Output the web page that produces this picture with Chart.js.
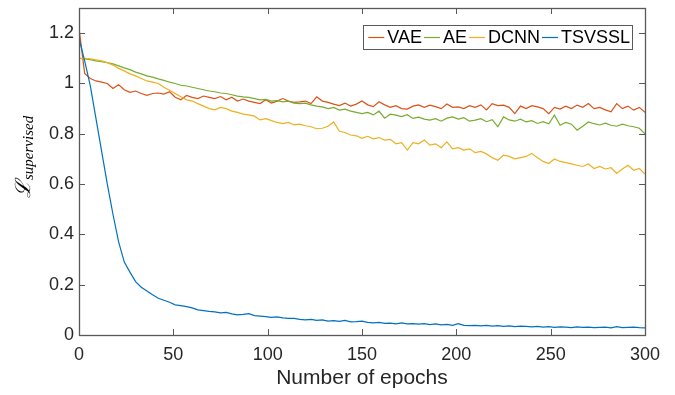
<!DOCTYPE html>
<html>
<head>
<meta charset="utf-8">
<script src="https://cdn.jsdelivr.net/npm/chart.js@4.4.0/dist/chart.umd.min.js"></script>
<style>
	html, body { margin: 0; padding: 0; background: #fff; }
	#wrap { width: 675px; height: 395px; }
</style>
</head>
<body>
<div id="wrap"><canvas id="lossChart" width="675" height="395"></canvas></div>
<script>
// one value every 3 epochs, 0..300
var EPOCH_STEP = 3;

var VAE = [
	1.22, 1.04, 1.02, 1.01, 1.005, 1.0, 0.98, 0.995, 0.975, 0.965,
	0.97, 0.96, 0.953, 0.96, 0.962, 0.958, 0.967, 0.945, 0.935, 0.952,
	0.945, 0.94, 0.95, 0.945, 0.94, 0.948, 0.935, 0.945, 0.93, 0.938,
	0.93, 0.925, 0.92, 0.935, 0.922, 0.93, 0.94, 0.93, 0.925, 0.927,
	0.93, 0.92, 0.947, 0.93, 0.925, 0.918, 0.912, 0.922, 0.91, 0.918,
	0.93, 0.915, 0.908, 0.927, 0.915, 0.905, 0.912, 0.9, 0.898, 0.91,
	0.915, 0.905, 0.914, 0.908, 0.9, 0.918, 0.905, 0.907, 0.9, 0.912,
	0.905, 0.915, 0.895, 0.92, 0.912, 0.914, 0.905, 0.88, 0.91, 0.9,
	0.912, 0.907, 0.9, 0.88, 0.905, 0.898, 0.91, 0.9, 0.914, 0.905,
	0.92, 0.9, 0.905, 0.895, 0.887, 0.92, 0.9, 0.91, 0.894, 0.905,
	0.885
];
var AE = [
	1.1, 1.098, 1.095, 1.09, 1.087, 1.083, 1.078, 1.07, 1.062, 1.055,
	1.045, 1.038, 1.03, 1.025, 1.018, 1.012, 1.005, 1.0, 0.993, 0.99,
	0.985, 0.98, 0.975, 0.97, 0.967, 0.962, 0.96, 0.955, 0.95, 0.947,
	0.945, 0.94, 0.935, 0.937, 0.93, 0.932, 0.927, 0.93, 0.922, 0.92,
	0.922, 0.915, 0.91, 0.907, 0.9, 0.905, 0.894, 0.898, 0.89, 0.885,
	0.88, 0.885, 0.875, 0.89, 0.862, 0.878, 0.874, 0.868, 0.876, 0.861,
	0.866, 0.858, 0.854, 0.86, 0.85, 0.862, 0.867, 0.858, 0.864, 0.85,
	0.854, 0.86, 0.848, 0.856, 0.828, 0.867, 0.855, 0.85, 0.858, 0.847,
	0.852, 0.841, 0.848, 0.84, 0.874, 0.834, 0.845, 0.838, 0.814, 0.83,
	0.847, 0.84, 0.835, 0.842, 0.834, 0.83, 0.838, 0.832, 0.828, 0.822,
	0.8
];
var DCNN = [
	1.1, 1.1, 1.098, 1.094, 1.09, 1.083, 1.073, 1.06, 1.05, 1.038,
	1.03, 1.02, 1.01, 1.005, 1.0, 0.985, 0.973, 0.96, 0.947, 0.935,
	0.93, 0.92, 0.91, 0.9, 0.895, 0.905, 0.9, 0.89, 0.885, 0.878,
	0.875, 0.87, 0.855, 0.86, 0.852, 0.845, 0.84, 0.845, 0.835, 0.838,
	0.832, 0.828, 0.82, 0.822, 0.83, 0.847, 0.81, 0.805, 0.795, 0.792,
	0.782, 0.79, 0.78, 0.785, 0.775, 0.778, 0.76, 0.765, 0.735, 0.765,
	0.76, 0.775, 0.755, 0.76, 0.745, 0.768, 0.74, 0.745, 0.735, 0.74,
	0.725, 0.73, 0.72, 0.705, 0.695, 0.715, 0.71, 0.7, 0.705, 0.71,
	0.722, 0.705, 0.69, 0.682, 0.7, 0.69, 0.685, 0.68, 0.675, 0.67,
	0.68, 0.662, 0.67, 0.66, 0.665, 0.642, 0.66, 0.675, 0.655, 0.662,
	0.64
];
var TSVSSL = [
	1.18, 1.09, 0.99, 0.86, 0.73, 0.6, 0.48, 0.37, 0.29, 0.25,
	0.212, 0.19, 0.175, 0.16, 0.146, 0.138, 0.13, 0.12, 0.117, 0.113,
	0.108, 0.1, 0.097, 0.094, 0.092, 0.088, 0.09, 0.084, 0.08, 0.082,
	0.085, 0.077, 0.075, 0.073, 0.07, 0.072, 0.068, 0.066, 0.066, 0.062,
	0.06, 0.062, 0.058, 0.06, 0.055, 0.057, 0.054, 0.058, 0.052, 0.053,
	0.055, 0.05, 0.048, 0.05, 0.046, 0.047, 0.044, 0.048, 0.044, 0.045,
	0.043, 0.045, 0.041, 0.044, 0.04, 0.042, 0.038, 0.045, 0.038, 0.037,
	0.038, 0.036, 0.038, 0.035, 0.037, 0.034, 0.036, 0.033, 0.035, 0.034,
	0.032, 0.034, 0.031, 0.033, 0.03, 0.032, 0.031, 0.029, 0.032, 0.03,
	0.031, 0.029, 0.03, 0.031, 0.028, 0.033, 0.029, 0.03, 0.031, 0.029,
	0.028
];

var SERIES_NAMES = ['VAE', 'AE', 'DCNN', 'TSVSSL'];
var SERIES_DATA = [VAE, AE, DCNN, TSVSSL];
var SERIES_COLORS = ['#D95319', '#77AC30', '#EDB120', '#0072BD'];

var X_TICKS = [0, 50, 100, 150, 200, 250, 300];
var Y_TICKS = [0, 0.2, 0.4, 0.6, 0.8, 1, 1.2];
var Y_TICK_LABELS = ['0', '0.2', '0.4', '0.6', '0.8', '1', '1.2'];

var AXIS_COLOR = '#262626';
var BOX_COLOR = '#595959';
var FONT_FAMILY = '"Liberation Sans Narrow", "Liberation Sans", Arial, sans-serif';

function toPoints(values) {
	var pts = new Array();
	values.forEach(function(v, i) {
		pts.push({ x: i * EPOCH_STEP, y: v });
	});
	return pts;
}

function buildDatasets() {
	var datasets = new Array();
	SERIES_NAMES.forEach(function(name, idx) {
		datasets.push({
			label: name,
			data: toPoints(SERIES_DATA[idx]),
			borderColor: SERIES_COLORS[idx],
			backgroundColor: SERIES_COLORS[idx],
			borderWidth: 1.2,
			pointRadius: 0,
			tension: 0,
			fill: false,
			order: SERIES_NAMES.length - idx
		});
	});
	return datasets;
}

// matlab style box, inward ticks, legend box and the L_supervised label
var matlabAxes = {
	id: 'matlabAxes',
	afterDraw: function(chart) {
		var ctx = chart.ctx;
		var a = chart.chartArea;
		var xs = chart.scales.x;
		var ys = chart.scales.y;
		var tl = 6;

		ctx.save();
		ctx.strokeStyle = BOX_COLOR;
		ctx.lineWidth = 1;
		ctx.beginPath();
		X_TICKS.forEach(function(v) {
			var px = Math.round(xs.getPixelForValue(v)) + 0.5;
			ctx.moveTo(px, a.bottom); ctx.lineTo(px, a.bottom - tl);
			ctx.moveTo(px, a.top); ctx.lineTo(px, a.top + tl);
		});
		Y_TICKS.forEach(function(v) {
			var py = Math.round(ys.getPixelForValue(v)) + 0.5;
			ctx.moveTo(a.left, py); ctx.lineTo(a.left + tl, py);
			ctx.moveTo(a.right, py); ctx.lineTo(a.right - tl, py);
		});
		ctx.stroke();
		ctx.lineWidth = 1.3;
		ctx.strokeRect(Math.round(a.left) + 0.5, Math.round(a.top) + 0.5,
			Math.round(a.right - a.left), Math.round(a.bottom - a.top));

		// legend
		ctx.lineWidth = 1;
		ctx.font = '18px ' + FONT_FAMILY;
		var lineLen = 16, gapText = 3, gapItem = 2;
		var total = 5;
		var widths = SERIES_NAMES.map(function(n) { return ctx.measureText(n).width; });
		widths.forEach(function(w) { total += lineLen + gapText + w + gapItem; });
		var boxRight = 632, boxTop = 25, boxH = 24;
		var boxLeft = boxRight - total;
		ctx.fillStyle = '#fff';
		ctx.fillRect(boxLeft, boxTop, total, boxH);
		ctx.strokeRect(Math.round(boxLeft) + 0.5, boxTop + 0.5, Math.round(total), boxH);
		var cx = boxLeft + 5;
		var cy = boxTop + boxH / 2 + 0.5;
		ctx.textBaseline = 'middle';
		ctx.textAlign = 'left';
		SERIES_NAMES.forEach(function(n, i) {
			ctx.strokeStyle = SERIES_COLORS[i];
			ctx.lineWidth = 1.2;
			ctx.beginPath();
			ctx.moveTo(cx, cy); ctx.lineTo(cx + lineLen, cy);
			ctx.stroke();
			ctx.fillStyle = '#000';
			ctx.fillText(n, cx + lineLen + gapText, cy + 1);
			cx += lineLen + gapText + widths[i] + gapItem;
		});

		// y label: script L with subscript
		ctx.translate(30, 198);
		ctx.rotate(-Math.PI / 2);
		ctx.fillStyle = '#000';
		ctx.textBaseline = 'alphabetic';
		ctx.font = 'italic 21px "DejaVu Serif", serif';
		ctx.fillText('\u2112', 0, 0);
		var lw = ctx.measureText('\u2112').width;
		ctx.font = 'italic 15px "Liberation Serif", serif';
		ctx.fillText('supervised', lw + 1, 3);
		ctx.restore();
	}
};

var lossConfig = {
	type: 'line',
	data: { datasets: buildDatasets() },
	options: {
		responsive: false,
		animation: false,
		devicePixelRatio: 1,
		layout: {
			padding: { top: 8, right: 30, left: 0, bottom: 0 }
		},
		plugins: {
			legend: { display: false },
			tooltip: { enabled: false }
		},
		scales: {
			x: {
				type: 'linear',
				min: 0,
				max: 300,
				grid: { display: false, drawTicks: false },
				border: { display: false },
				afterBuildTicks: function(scale) {
					scale.ticks = X_TICKS.map(function(v) { return { value: v }; });
				},
				ticks: {
					color: AXIS_COLOR,
					padding: 9,
					maxRotation: 0,
					font: { family: FONT_FAMILY, size: 18 }
				},
				title: {
					display: true,
					text: 'Number of epochs',
					color: AXIS_COLOR,
					padding: { top: 0, bottom: 4 },
					font: { family: FONT_FAMILY, size: 21 }
				},
				afterFit: function(scale) {
					scale.height = 60;
					scale.paddingLeft = 0;
					scale.paddingRight = 0;
				}
			},
			y: {
				min: 0,
				max: 1.3,
				grid: { display: false, drawTicks: false },
				border: { display: false },
				afterBuildTicks: function(scale) {
					scale.ticks = Y_TICKS.map(function(v) { return { value: v }; });
				},
				ticks: {
					color: AXIS_COLOR,
					padding: 5,
					font: { family: FONT_FAMILY, size: 18 },
					callback: function(value, index) {
						return Y_TICK_LABELS[index];
					}
				},
				afterFit: function(scale) {
					scale.width = 79;
					scale.paddingTop = 0;
					scale.paddingBottom = 0;
				}
			}
		}
	},
	plugins: [matlabAxes]
};

var lossChart = new Chart(document.getElementById('lossChart'), lossConfig);
</script>
</body>
</html>
